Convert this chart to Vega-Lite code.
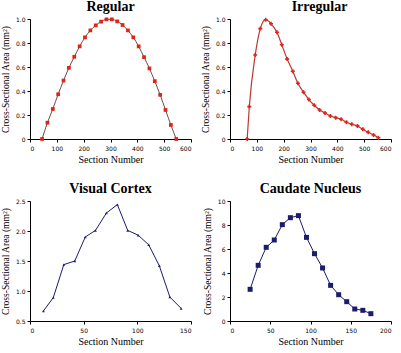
{
  "$schema": "https://vega.github.io/schema/vega-lite/v6.json",
  "background": "white",
  "padding": {"left": 0, "top": 0, "right": 0, "bottom": 0},
  "config": {
    "view": {"stroke": null},
    "axis": {"grid": false, "domainColor": "black", "tickColor": "black", "domainWidth": 1, "tickSize": 3, "labelFont": "DejaVu Sans", "labelFontSize": 6, "labelColor": "black", "titleFont": "Liberation Serif", "titleFontWeight": "normal", "titleColor": "black"},
    "axisX": {"titleFontSize": 10, "labelPadding": 3, "titlePadding": 3},
    "axisY": {"titleFontSize": 9.5, "labelPadding": 2, "titlePadding": 5},
    "title": {"font": "Liberation Serif", "fontSize": 14, "fontWeight": "bold", "color": "black", "offset": 2}
  },
  "datasets": {
    "regular": [
      {"section": 45, "area": 0.0}, {"section": 65, "area": 0.136}, {"section": 85, "area": 0.25}, {"section": 105, "area": 0.373},
      {"section": 125, "area": 0.487}, {"section": 145, "area": 0.593}, {"section": 165, "area": 0.685}, {"section": 185, "area": 0.772},
      {"section": 205, "area": 0.847}, {"section": 225, "area": 0.905}, {"section": 245, "area": 0.947}, {"section": 265, "area": 0.978},
      {"section": 285, "area": 0.997}, {"section": 305, "area": 0.997}, {"section": 325, "area": 0.98}, {"section": 345, "area": 0.95},
      {"section": 365, "area": 0.905}, {"section": 385, "area": 0.847}, {"section": 405, "area": 0.772}, {"section": 425, "area": 0.682},
      {"section": 445, "area": 0.588}, {"section": 465, "area": 0.482}, {"section": 485, "area": 0.368}, {"section": 505, "area": 0.242},
      {"section": 525, "area": 0.117}, {"section": 545, "area": 0.0}
    ],
    "irregular": [
      {"section": 64, "area": 0.0}, {"section": 72, "area": 0.27}, {"section": 94, "area": 0.7}, {"section": 113, "area": 0.92},
      {"section": 133, "area": 0.994}, {"section": 153, "area": 0.96}, {"section": 175, "area": 0.89}, {"section": 193, "area": 0.786},
      {"section": 213, "area": 0.666}, {"section": 234, "area": 0.565}, {"section": 253, "area": 0.465}, {"section": 274, "area": 0.39},
      {"section": 294, "area": 0.329}, {"section": 314, "area": 0.281}, {"section": 334, "area": 0.242}, {"section": 354, "area": 0.217},
      {"section": 374, "area": 0.192}, {"section": 394, "area": 0.178}, {"section": 414, "area": 0.164}, {"section": 434, "area": 0.139},
      {"section": 454, "area": 0.123}, {"section": 475, "area": 0.109}, {"section": 495, "area": 0.081}, {"section": 515, "area": 0.056},
      {"section": 535, "area": 0.033}, {"section": 553, "area": 0.011}
    ],
    "visual": [
      {"section": 12.5, "area": 0.667}, {"section": 21.7, "area": 0.89}, {"section": 31.5, "area": 1.44}, {"section": 41.7, "area": 1.5},
      {"section": 51.5, "area": 1.9}, {"section": 61, "area": 2.01}, {"section": 71.2, "area": 2.3}, {"section": 81.4, "area": 2.44},
      {"section": 91, "area": 2.01}, {"section": 100.8, "area": 1.93}, {"section": 110.6, "area": 1.77}, {"section": 120.5, "area": 1.42},
      {"section": 130.3, "area": 0.9}, {"section": 140.8, "area": 0.71}
    ],
    "caudate": [
      {"section": 25, "area": 2.64}, {"section": 35, "area": 4.64}, {"section": 45, "area": 6.14}, {"section": 55, "area": 6.75},
      {"section": 65, "area": 8.03}, {"section": 75, "area": 8.61}, {"section": 85, "area": 8.78}, {"section": 95, "area": 6.97},
      {"section": 105, "area": 5.61}, {"section": 115, "area": 4.42}, {"section": 125, "area": 2.97}, {"section": 135, "area": 2.19},
      {"section": 145, "area": 1.61}, {"section": 155, "area": 1.0}, {"section": 165, "area": 0.89}, {"section": 175, "area": 0.61}
    ]
  },
  "bounds": "flush",
  "columns": 2,
  "spacing": {"row": 62, "column": 39},
  "concat": [
    {
      "title": "Regular",
      "width": 161, "height": 120,
      "data": {"name": "regular"},
      "encoding": {
        "x": {"field": "section", "type": "quantitative", "scale": {"domain": [0, 600], "nice": false}, "axis": {"title": "Section Number", "values": [0, 100, 200, 300, 400, 500, 600]}},
        "y": {"field": "area", "type": "quantitative", "scale": {"domain": [0, 1], "nice": false}, "axis": {"title": "Cross-Sectional Area (mm²)", "values": [0, 0.2, 0.4, 0.6, 0.8, 1.0], "labelExpr": "datum.value == 0 ? '0' : format(datum.value, '.1f')"}}
      },
      "layer": [
        {"mark": {"type": "line", "color": "#6a4a4a", "strokeWidth": 1, "interpolate": "monotone"}},
        {"mark": {"type": "point", "shape": "square", "filled": true, "color": "#e02518", "size": 14, "opacity": 1}}
      ]
    },
    {
      "title": {"text": "Irregular", "dx": 9},
      "width": 161, "height": 120,
      "data": {"name": "irregular"},
      "encoding": {
        "x": {"field": "section", "type": "quantitative", "scale": {"domain": [0, 600], "nice": false}, "axis": {"title": "Section Number", "values": [0, 100, 200, 300, 400, 500, 600]}},
        "y": {"field": "area", "type": "quantitative", "scale": {"domain": [0, 1], "nice": false}, "axis": {"title": "Cross-Sectional Area (mm²)", "values": [0, 0.2, 0.4, 0.6, 0.8, 1.0], "labelExpr": "datum.value == 0 ? '0' : format(datum.value, '.1f')"}}
      },
      "layer": [
        {"mark": {"type": "line", "color": "#b83a32", "strokeWidth": 1.2, "interpolate": "monotone"}},
        {"mark": {"type": "point", "shape": "cross", "filled": true, "color": "#e02518", "size": 16, "opacity": 1}}
      ]
    },
    {
      "title": "Visual Cortex",
      "width": 161, "height": 120,
      "data": {"name": "visual"},
      "encoding": {
        "x": {"field": "section", "type": "quantitative", "scale": {"domain": [0, 150], "nice": false}, "axis": {"title": "Section Number", "values": [0, 50, 100, 150]}},
        "y": {"field": "area", "type": "quantitative", "scale": {"domain": [0.5, 2.5], "nice": false}, "axis": {"title": "Cross-Sectional Area (mm²)", "values": [0.5, 1.0, 1.5, 2.0, 2.5], "format": ".1f"}}
      },
      "layer": [
        {"mark": {"type": "line", "color": "#1c1c6c", "strokeWidth": 1}},
        {"mark": {"type": "point", "shape": "triangle-up", "filled": true, "color": "#1c1c6c", "size": 8, "opacity": 1}}
      ]
    },
    {
      "title": "Caudate Nucleus",
      "width": 161, "height": 120,
      "data": {"name": "caudate"},
      "encoding": {
        "x": {"field": "section", "type": "quantitative", "scale": {"domain": [0, 200], "nice": false}, "axis": {"title": "Section Number", "values": [0, 50, 100, 150, 200]}},
        "y": {"field": "area", "type": "quantitative", "scale": {"domain": [0, 10], "nice": false}, "axis": {"title": "Cross-Sectional Area (mm²)", "values": [0, 2, 4, 6, 8, 10]}}
      },
      "layer": [
        {"mark": {"type": "line", "color": "#1c1c6c", "strokeWidth": 1}},
        {"mark": {"type": "point", "shape": "square", "filled": true, "color": "#1c1c6c", "size": 25, "opacity": 1}}
      ]
    }
  ]
}
